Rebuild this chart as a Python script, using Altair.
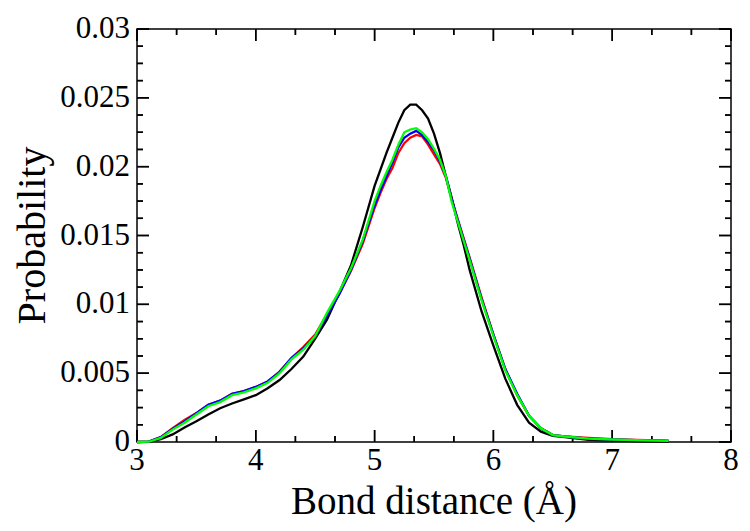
import altair as alt
import pandas as pd

# ---- data ----
x_vals = [3.0, 3.1, 3.2, 3.3, 3.4, 3.5, 3.6, 3.7, 3.8, 3.9,
          4.0, 4.1, 4.2, 4.3, 4.4, 4.5, 4.6, 4.7, 4.8, 4.9,
          5.0, 5.05, 5.1, 5.15, 5.2, 5.25, 5.3, 5.35, 5.4, 5.45,
          5.5, 5.55, 5.6, 5.65, 5.7, 5.75, 5.8, 5.9, 6.0, 6.1,
          6.2, 6.3, 6.4, 6.5, 6.6, 6.8, 7.0, 7.2, 7.475]

black = [0.0, 0.00001, 0.0002, 0.00055, 0.00105, 0.0015, 0.002, 0.00245, 0.0028, 0.0031,
         0.0034, 0.0039, 0.0045, 0.0053, 0.0062, 0.0075, 0.0089, 0.0108, 0.0128, 0.0156,
         0.0186, 0.0198, 0.0210, 0.0221, 0.0232, 0.0241, 0.0245, 0.0245, 0.0241, 0.0235,
         0.0224, 0.0210, 0.0193, 0.0177, 0.0159, 0.0143, 0.0125, 0.0095, 0.0070, 0.0046,
         0.0027, 0.0014, 0.00075, 0.00045, 0.00035, 0.00015, 0.0001, 0.00007, 0.00003]

red = [0.0, 0.00003, 0.00035, 0.001, 0.0016, 0.0021, 0.0027, 0.0030, 0.0035, 0.0037,
       0.0040, 0.0044, 0.0051, 0.0061, 0.0069, 0.0078, 0.0093, 0.0107, 0.0124, 0.0144,
       0.0170, 0.0181, 0.0191, 0.0199, 0.0210, 0.0217, 0.0221, 0.0223, 0.0222, 0.0216,
       0.0209, 0.0202, 0.0192, 0.0176, 0.0162, 0.0148, 0.0134, 0.0105, 0.0078, 0.0053,
       0.0034, 0.0019, 0.0010, 0.0005, 0.0004, 0.0003, 0.0002, 0.00015, 0.0001]

blue = [0.0, 0.00003, 0.00035, 0.00095, 0.0015, 0.0021, 0.0027, 0.0030, 0.0035, 0.0037,
        0.0040, 0.0044, 0.0051, 0.0061, 0.0068, 0.0077, 0.0092, 0.0107, 0.0125, 0.0146,
        0.0172, 0.0183, 0.0193, 0.0203, 0.0214, 0.0221, 0.0224, 0.0226, 0.0223, 0.0218,
        0.0212, 0.0204, 0.0193, 0.0176, 0.0161, 0.0147, 0.0133, 0.0104, 0.0078, 0.0053,
        0.0035, 0.0019, 0.0010, 0.0005, 0.0004, 0.00025, 0.00018, 0.00014, 0.00008]

green = [0.0, 0.00002, 0.0003, 0.0009, 0.0014, 0.0020, 0.0026, 0.0029, 0.0034, 0.0036,
         0.0039, 0.0043, 0.0050, 0.0060, 0.0067, 0.0077, 0.0094, 0.0109, 0.0126, 0.0147,
         0.0175, 0.0186, 0.0196, 0.0205, 0.0216, 0.0225, 0.0227, 0.0228, 0.0225, 0.0220,
         0.0213, 0.0205, 0.0193, 0.0174, 0.0160, 0.0146, 0.0132, 0.0103, 0.0077, 0.0052,
         0.0034, 0.0019, 0.0010, 0.0005, 0.0004, 0.00025, 0.00018, 0.00014, 0.00008]

series_names = ["black", "red", "blue", "green"]
series_colors = ["#000000", "#ff0000", "#0000ff", "#00ff00"]

x_major = [3, 4, 5, 6, 7, 8]
x_labels = ["3", "4", "5", "6", "7", "8"]
x_minor = [3.3333, 3.6667, 4.3333, 4.6667, 5.3333, 5.6667,
           6.3333, 6.6667, 7.3333, 7.6667]
y_major = [0, 0.005, 0.01, 0.015, 0.02, 0.025, 0.03]
y_labels = ["0", "0.005", "0.01", "0.015", "0.02", "0.025", "0.03"]
y_minor = [0.00125, 0.0025, 0.00375, 0.00625, 0.0075, 0.00875,
           0.01125, 0.0125, 0.01375, 0.01625, 0.0175, 0.01875,
           0.02125, 0.0225, 0.02375, 0.02625, 0.0275, 0.02875]
x_range = [3, 8]
y_range = [0, 0.03]

x_title = "Bond distance (Å)"
y_title = "Probability"

# ---- build table ----
rows = []
for name, vals in zip(series_names, [black, red, blue, green]):
    for xv, yv in zip(x_vals, vals):
        rows.append({"x": xv, "y": yv, "series": name})
df = pd.DataFrame(rows)

W, H = 594, 413
MAJOR, MINOR = 12, 6
FONT = "Liberation Serif"
TICK_COLOR = "#000000"

x_scale = alt.Scale(domain=x_range, nice=False, zero=False)
y_scale = alt.Scale(domain=y_range, nice=False, zero=False)


def X(field):
    return alt.X(field, type="quantitative", scale=x_scale, axis=None)


def Y(field):
    return alt.Y(field, type="quantitative", scale=y_scale, axis=None)


# inward ticks drawn as stroked symbol paths anchored on the frame edges
# (custom path from 0 to 2 units -> length sqrt(size) pixels)
def tick_points(xs, ys, shape, length):
    d = pd.DataFrame({"px": xs, "py": ys})
    return alt.Chart(d).mark_point(
        shape=shape, size=length * length, filled=False, stroke=TICK_COLOR,
        strokeWidth=1.5, opacity=1, strokeCap="butt",
    ).encode(x=X("px"), y=Y("py"))


tick_layers = []
for vals, length in [(x_major, MAJOR), (x_minor, MINOR)]:
    tick_layers.append(tick_points(vals, [y_range[0]] * len(vals), "M0,0L0,-2", length))
    tick_layers.append(tick_points(vals, [y_range[1]] * len(vals), "M0,0L0,2", length))
for vals, length in [(y_major, MAJOR), (y_minor, MINOR)]:
    tick_layers.append(tick_points([x_range[0]] * len(vals), vals, "M0,0L2,0", length))
    tick_layers.append(tick_points([x_range[1]] * len(vals), vals, "M0,0L-2,0", length))

# same ticks also as two-point line segments
x_per_px = (x_range[1] - x_range[0]) / W
y_per_px = (y_range[1] - y_range[0]) / H
seg = []
k = 0
for vals, length in [(x_major, MAJOR), (x_minor, MINOR)]:
    for v in vals:
        for edge, sign in [(y_range[0], 1), (y_range[1], -1)]:
            seg.append({"px": v, "py": edge, "id": k})
            seg.append({"px": v, "py": edge + sign * length * y_per_px, "id": k})
            k += 1
for vals, length in [(y_major, MAJOR), (y_minor, MINOR)]:
    for v in vals:
        for edge, sign in [(x_range[0], 1), (x_range[1], -1)]:
            seg.append({"px": edge, "py": v, "id": k})
            seg.append({"px": edge + sign * length * x_per_px, "py": v, "id": k})
            k += 1
seg_df = pd.DataFrame(seg)
seg_layer = alt.Chart(seg_df).mark_line(color=TICK_COLOR, strokeWidth=1.5).encode(
    x=X("px"), y=Y("py"), detail="id:N",
)

# tick labels and axis titles as text
x_lab = alt.Chart(pd.DataFrame({"v": x_major, "t": x_labels})).mark_text(
    font=FONT, fontSize=31, color="black", baseline="top", align="center"
).encode(x=X("v"), y=alt.value(H + 4), text="t:N")

y_lab = alt.Chart(pd.DataFrame({"v": y_major, "t": y_labels})).mark_text(
    font=FONT, fontSize=31, color="black", baseline="middle", align="right"
).encode(y=Y("v"), x=alt.value(-7), text="t:N")

x_tit = alt.Chart(pd.DataFrame({"t": [x_title]})).mark_text(
    font=FONT, fontSize=39, color="black", baseline="alphabetic", align="center"
).encode(x=alt.value(W / 2), y=alt.value(H + 72), text="t:N")

y_tit = alt.Chart(pd.DataFrame({"t": [y_title]})).mark_text(
    font=FONT, fontSize=40, color="black", baseline="alphabetic", align="center", angle=270
).encode(x=alt.value(-92), y=alt.value(H / 2), text="t:N")

line_layers = []
for name, color in zip(series_names, series_colors):
    line_layers.append(
        alt.Chart(df[df["series"] == name]).mark_line(color=color, strokeWidth=2.3).encode(
            x=X("x"), y=Y("y"),
        )
    )

chart = alt.layer(seg_layer, *tick_layers, *line_layers, x_lab, y_lab, x_tit, y_tit).properties(
    width=W, height=H,
    autosize=alt.AutoSizeParams(type="none"),
    padding={"left": 129, "top": 21, "right": 11, "bottom": 81},
).configure_view(stroke="black", strokeWidth=1.5)

chart.save("out.html", embed_options={"renderer": "svg", "actions": False})
